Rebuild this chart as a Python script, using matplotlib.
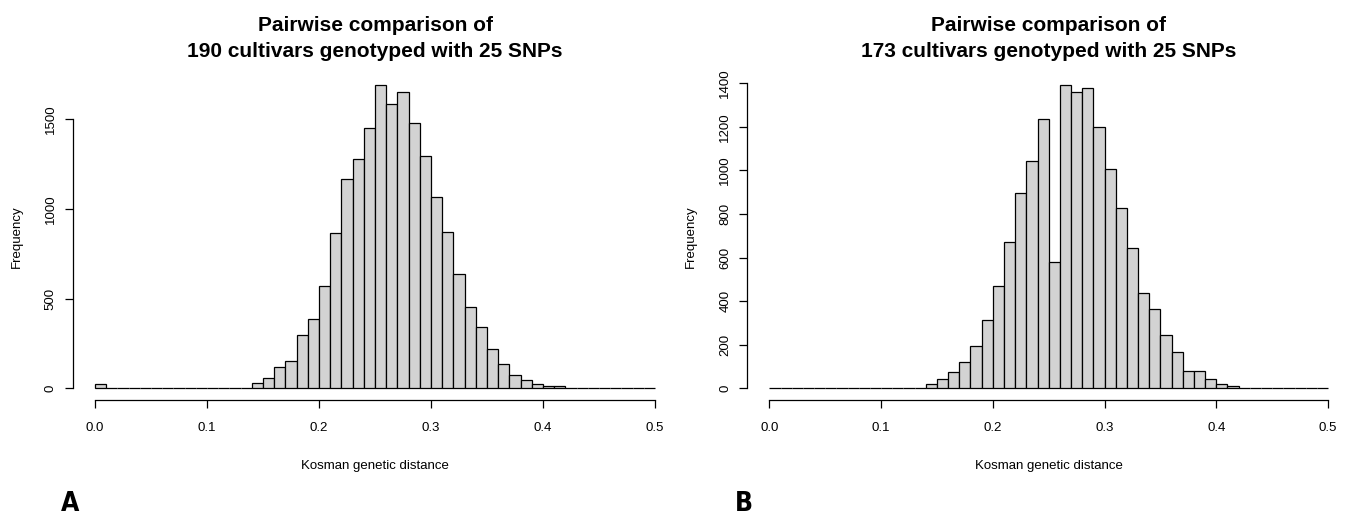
import numpy as np
import matplotlib
matplotlib.use('Agg')
import matplotlib.pyplot as plt

plt.rcParams['font.family'] = ['Liberation Sans', 'DejaVu Sans']

# histogram bins of width 0.01 between 0 and 0.5
bin_edges = np.round(np.arange(0, 0.51, 0.01), 2)

counts_190 = [25, 4, 3, 0, 0, 0, 0, 0, 0, 0,
              0, 0, 3, 3, 30, 59, 119, 152, 296, 388,
              571, 866, 1168, 1277, 1450, 1690, 1584, 1655, 1482, 1296,
              1065, 870, 640, 455, 344, 217, 136, 74, 45, 22,
              11, 11, 4, 3, 0, 0, 0, 0, 0, 0]

counts_173 = [0, 0, 0, 0, 0, 0, 0, 0, 0, 0,
              0, 0, 0, 3, 18, 44, 76, 121, 193, 314,
              470, 673, 895, 1045, 1235, 581, 1391, 1362, 1377, 1198,
              1008, 826, 646, 439, 363, 243, 168, 80, 80, 44,
              18, 9, 3, 3, 3, 0, 0, 0, 0, 0]

titles = ['Pairwise comparison of\n190 cultivars genotyped with 25 SNPs',
          'Pairwise comparison of\n173 cultivars genotyped with 25 SNPs']
y_ticks = [[0, 500, 1000, 1500], [0, 200, 400, 600, 800, 1000, 1200, 1400]]
x_ticks = [0.0, 0.1, 0.2, 0.3, 0.4, 0.5]
panel_names = ['A', 'B']

W, H = 1347, 515
fig = plt.figure(figsize=(W / 100, H / 100), dpi=100)

# plot regions in pixels: left, right, top, bottom
regions = [(72.6, 677.4, 73.2, 400.4), (747.0, 1350.4, 73.2, 400.4)]
panel_pos = [(61, 511), (735, 511)]

for i, counts in enumerate([counts_190, counts_173]):
    l, r, t, b = regions[i]
    ax = fig.add_axes([l / W, (H - b) / H, (r - l) / W, (b - t) / H])
    ax.bar(bin_edges[:-1], counts, width=0.01, align='edge',
           color='#d3d3d3', edgecolor='black', linewidth=0.9)
    top = max(counts)
    ax.set_xlim(-0.02, 0.52)
    ax.set_ylim(-0.04 * top, 1.04 * top)

    for side in ['top', 'right']:
        ax.spines[side].set_visible(False)
    ax.spines['left'].set_bounds(0, y_ticks[i][-1])
    ax.spines['bottom'].set_bounds(0, 0.5)
    ax.spines['left'].set_linewidth(0.9)
    ax.spines['bottom'].set_linewidth(0.9)

    ax.set_xticks(x_ticks)
    ax.set_xticklabels(['%.1f' % v for v in x_ticks])
    ax.set_yticks(y_ticks[i])
    ax.set_yticklabels([str(v) for v in y_ticks[i]], rotation=90, va='center')
    ax.tick_params(axis='x', direction='out', length=5.8, width=0.9,
                   labelsize=9.5, pad=9.5)
    ax.tick_params(axis='y', direction='out', length=5.8, width=0.9,
                   labelsize=9.5, pad=5.5)

    ax.set_xlabel('Kosman genetic distance', fontsize=9.5, labelpad=19)
    ax.set_ylabel('Frequency', fontsize=9.5, labelpad=16)
    ax.set_title(titles[i], fontsize=15, fontweight='bold', pad=12,
                 linespacing=1.45)

    fig.text(panel_pos[i][0] / W, (H - panel_pos[i][1]) / H, panel_names[i],
             fontsize=19, fontweight='bold', family='DejaVu Sans',
             stretch='condensed', ha='left', va='baseline')

fig.savefig('out.png', dpi=100)
